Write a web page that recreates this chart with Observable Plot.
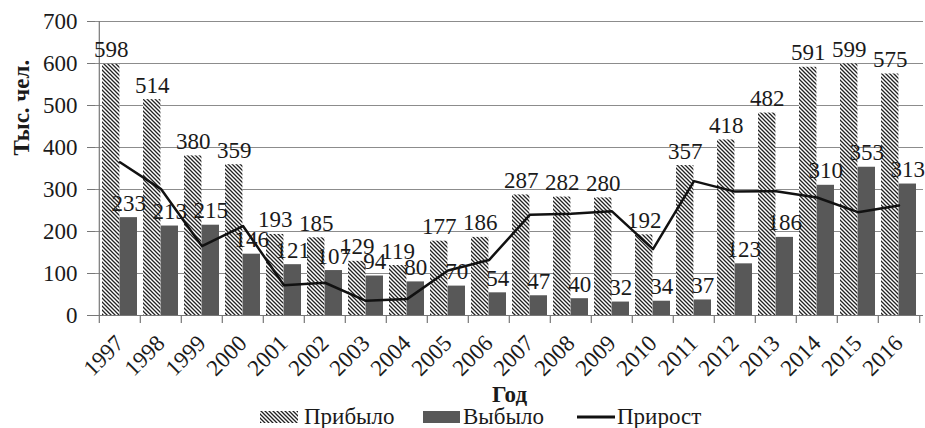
<!DOCTYPE html>
<html>
<head>
<meta charset="utf-8">
<script src="https://cdn.jsdelivr.net/npm/d3@7"></script>
<script src="https://cdn.jsdelivr.net/npm/@observablehq/plot@0.6"></script>
<style>
  body { margin: 0; background: #fff; font-family: "Liberation Serif", "Times New Roman", "DejaVu Serif", serif; color: #1a1a1a; }
  #chart svg { overflow: visible; }
  #legend { position: relative; width: 925px; height: 22px; font-size: 23px; line-height: 22px; }
  #legend .item { position: absolute; top: 0; white-space: nowrap; }
  #legend svg { position: absolute; }
</style>
</head>
<body>
<div id="chart"></div>
<div id="legend"></div>
<script>
// ---- data ----
const years = ["1997","1998","1999","2000","2001","2002","2003","2004","2005","2006",
               "2007","2008","2009","2010","2011","2012","2013","2014","2015","2016"];
const arrived  = [598, 514, 380, 359, 193, 185, 129, 119, 177, 186, 287, 282, 280, 192, 357, 418, 482, 591, 599, 575];
const departed = [233, 213, 215, 146, 121, 107,  94,  80,  70,  54,  47,  40,  32,  34,  37, 123, 186, 310, 353, 313];
const growth   = [365, 301, 165, 213,  72,  78,  35,  39, 107, 132, 240, 242, 248, 158, 320, 295, 296, 281, 246, 262];
const yTicks = [0, 100, 200, 300, 400, 500, 600, 700];
const seriesNames = ["Прибыло", "Выбыло", "Прирост"];
const yLabel = "Тыс. чел.";
const xLabel = "Год";

// ---- layout ----
const W = 925, H = 406, ML = 95, MR = 2, MT = 21, MB = 91;
const step = (W - ML - MR) / years.length;
const pad = 0.15;
const bw = step * (1 - pad);

const data = years.map((y, i) => ({year: y, arrived: arrived[i], departed: departed[i], growth: growth[i]}));

const svg = Plot.plot({
  width: W, height: H,
  marginLeft: ML, marginRight: MR, marginTop: MT, marginBottom: MB,
  style: {fontFamily: '"Liberation Serif", "Times New Roman", serif', fontSize: "23px", color: "#1a1a1a", background: "#fff"},
  x: {domain: years, paddingInner: pad, paddingOuter: pad / 2},
  y: {domain: [0, 700]},
  marks: [
    Plot.ruleY(yTicks.filter(d => d > 0), {stroke: "#8c8c8c", strokeWidth: 1}),
    Plot.barY(data, {x: "year", y: "arrived", fill: "url(#hatch)", insetRight: bw / 2}),
    Plot.barY(data, {x: "year", y: "departed", fill: "#585858", insetLeft: bw / 2}),
    Plot.ruleY([0], {stroke: "#777", strokeWidth: 1.2}),
    Plot.ruleX([years[0]], {dx: -step / 2, stroke: "#777", strokeWidth: 1.2}),
    Plot.ruleX(years, {dx: -step / 2, stroke: "#777", strokeWidth: 1.2, insetTop: H - MT - MB, insetBottom: -8}),
    Plot.ruleX([years[years.length - 1]], {dx: step / 2, stroke: "#777", strokeWidth: 1.2, insetTop: H - MT - MB, insetBottom: -8}),
    Plot.lineY(data, {x: "year", y: "growth", stroke: "#111", strokeWidth: 2.5}),
    Plot.text(data, {x: "year", y: "arrived", text: d => String(d.arrived), dx: -bw / 4, dy: -7, lineAnchor: "bottom", fill: "#1a1a1a"}),
    Plot.text(data, {x: "year", y: "departed", text: d => String(d.departed), dx: bw / 4, dy: -7, lineAnchor: "bottom", fill: "#1a1a1a"}),
    Plot.axisY({ticks: yTicks, tickSize: 8, tickPadding: 10, label: null, stroke: "#777"}),
    Plot.axisX({tickRotate: -45, tickSize: 0, tickPadding: 24, label: null}),
    Plot.text([yLabel], {frameAnchor: "left", rotate: -90, dx: -74, dy: -13, fontWeight: "bold", lineAnchor: "middle"}),
    Plot.text([xLabel], {frameAnchor: "bottom", dy: 79, fontWeight: "bold", lineAnchor: "middle"})
  ]
});

// hatch pattern for "Прибыло"
const defs = d3.select(svg).insert("defs", ":first-child");
const p = defs.append("pattern").attr("id", "hatch").attr("patternUnits", "userSpaceOnUse")
  .attr("width", 4).attr("height", 4);
p.append("rect").attr("width", 4).attr("height", 4).attr("fill", "#fff");
p.append("path").attr("d", "M-1,-1L5,5M-1,3L1,5M3,-1L5,1").attr("stroke", "#222").attr("stroke-width", 1.3);

document.getElementById("chart").appendChild(svg);

// ---- legend ----
const legend = d3.select("#legend");
const items = [
  {swLeft: 260, swW: 38, textLeft: 304, kind: "hatch"},
  {swLeft: 423, swW: 37, textLeft: 463, kind: "solid"},
  {swLeft: 577, swW: 38, textLeft: 617, kind: "line"}
];
items.forEach((it, i) => {
  const s = legend.append("svg").attr("width", it.swW).attr("height", 14)
    .style("left", it.swLeft + "px").style("top", "4px");
  if (it.kind === "hatch") s.append("rect").attr("width", it.swW).attr("height", 12).attr("y", 1).attr("fill", "url(#hatch)");
  else if (it.kind === "solid") s.append("rect").attr("width", it.swW).attr("height", 12).attr("y", 1).attr("fill", "#585858");
  else s.append("line").attr("x1", 0).attr("x2", it.swW).attr("y1", 7).attr("y2", 7).attr("stroke", "#111").attr("stroke-width", 3);
  legend.append("div").attr("class", "item").style("left", it.textLeft + "px").text(seriesNames[i]);
});
</script>
</body>
</html>
